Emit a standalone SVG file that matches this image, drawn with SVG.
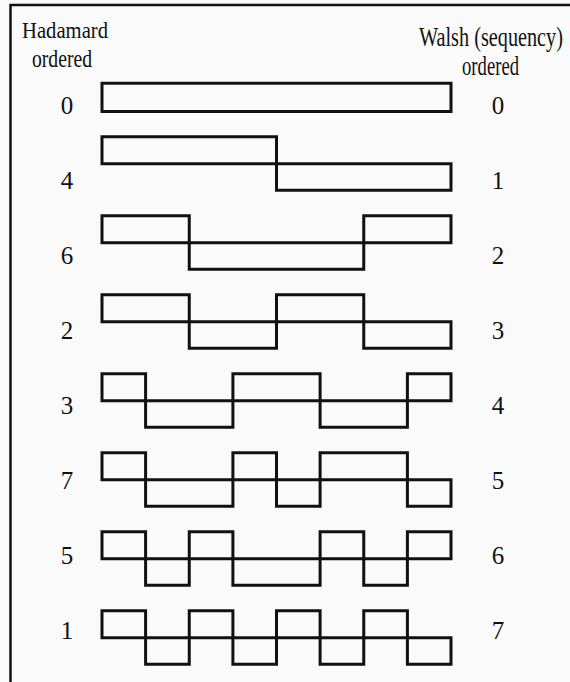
<svg xmlns="http://www.w3.org/2000/svg" width="570" height="682" viewBox="0 0 570 682">
<style>
.wave{fill:none;stroke:#111;stroke-width:3;stroke-linejoin:miter}
.lbl{font-family:"Liberation Serif","Times New Roman",serif;font-size:25px;fill:#111;text-anchor:middle}
.hdr{font-family:"Liberation Serif","Times New Roman",serif;fill:#111}
</style>
<rect x="0" y="0" width="570" height="682" fill="#fafafa"/>
<path d="M10.5,682 V5 H570" fill="none" stroke="#111" stroke-width="2.5"/>
<g id="headers">
<text class="hdr" x="22" y="37.5" font-size="24" textLength="86" lengthAdjust="spacingAndGlyphs">Hadamard</text>
<text class="hdr" x="32" y="67" font-size="25" textLength="60" lengthAdjust="spacingAndGlyphs">ordered</text>
<text class="hdr" transform="translate(419,45.5) scale(0.75,1)" x="0" y="0" font-size="27">Walsh (sequency)</text>
<text class="hdr" x="462" y="75" font-size="27" textLength="57" lengthAdjust="spacingAndGlyphs">ordered</text>
</g>
<g id="row-0">
<text class="lbl" x="67" y="113.5">0</text>
<path class="wave" d="M102,111.5 V83.3 H451 V111.5 Z"/>
<text class="lbl" x="498" y="113.5">0</text>
</g>
<g id="row-1">
<text class="lbl" x="67" y="188.5">4</text>
<path class="wave" d="M102,163.7 V136.7 H276.5 V190.2 H451 V163.7 Z"/>
<text class="lbl" x="498" y="188.5">1</text>
</g>
<g id="row-2">
<text class="lbl" x="67" y="263.5">6</text>
<path class="wave" d="M102,242.7 V215.7 H189.25 V269.2 H363.75 V215.7 H451 V242.7 Z"/>
<text class="lbl" x="498" y="263.5">2</text>
</g>
<g id="row-3">
<text class="lbl" x="67" y="338.5">2</text>
<path class="wave" d="M102,321.7 V294.7 H189.25 V348.2 H276.5 V294.7 H363.75 V348.2 H451 V321.7 Z"/>
<text class="lbl" x="498" y="338.5">3</text>
</g>
<g id="row-4">
<text class="lbl" x="67" y="413.5">3</text>
<path class="wave" d="M102,400.7 V373.7 H145.6 V427.2 H232.9 V373.7 H320.1 V427.2 H407.4 V373.7 H451 V400.7 Z"/>
<text class="lbl" x="498" y="413.5">4</text>
</g>
<g id="row-5">
<text class="lbl" x="67" y="488.5">7</text>
<path class="wave" d="M102,479.7 V452.7 H145.6 V506.2 H232.9 V452.7 H276.5 V506.2 H320.1 V452.7 H407.4 V506.2 H451 V479.7 Z"/>
<text class="lbl" x="498" y="488.5">5</text>
</g>
<g id="row-6">
<text class="lbl" x="67" y="563.5">5</text>
<path class="wave" d="M102,558.7 V531.7 H145.6 V585.2 H189.25 V531.7 H232.9 V585.2 H320.1 V531.7 H363.75 V585.2 H407.4 V531.7 H451 V558.7 Z"/>
<text class="lbl" x="498" y="563.5">6</text>
</g>
<g id="row-7">
<text class="lbl" x="67" y="638.5">1</text>
<path class="wave" d="M102,637.7 V610.7 H145.6 V664.2 H189.25 V610.7 H232.9 V664.2 H276.5 V610.7 H320.1 V664.2 H363.75 V610.7 H407.4 V664.2 H451 V637.7 Z"/>
<text class="lbl" x="498" y="638.5">7</text>
</g>
<g id="connectors"/>
</svg>
